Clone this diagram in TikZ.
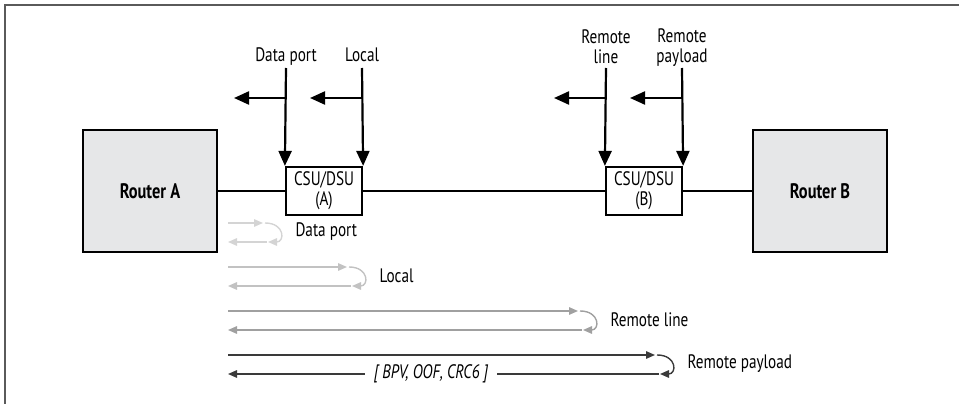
\documentclass[tikz,border=0pt]{standalone}
\usepackage{fontspec}
\setmainfont{PT Sans}[FakeStretch=0.78]
\usetikzlibrary{arrows.meta}
\definecolor{RouterFill}{HTML}{E6E7E8}
\definecolor{FrameGray}{HTML}{5A5A5A}
\definecolor{LoopData}{HTML}{D4D4D4}
\definecolor{LoopLocal}{HTML}{C2C2C2}
\definecolor{LoopLine}{HTML}{A0A0A0}
\definecolor{LoopPay}{HTML}{3A3A3A}
\newcommand\figfont{\fontsize{19.5}{20}\selectfont}

\begin{document}
\begin{tikzpicture}[x=1pt,y=-1pt,
  every node/.style={font=\figfont},
  router/.style={draw,line width=2.2pt,fill=RouterFill,minimum width=134pt,minimum height=122pt,font=\fontsize{21}{22}\selectfont\bfseries},
  csu/.style={draw,line width=2.2pt,fill=white,minimum width=76pt,minimum height=48pt,align=center,inner sep=0pt},
  lbl/.style={inner sep=0pt,align=center},
  tap/.style={line width=2.2pt,-{Triangle[length=15pt,width=13pt]}},
  loop/.style={line width=1.4pt,-{Triangle[length=9pt,width=7.5pt]}}]
  \useasboundingbox (0,0) rectangle (959,404);
  \draw[FrameGray,line width=1.4pt] (5,404) -- (5,5) -- (959,5);
  % routers and the two units
  \node[router] (ra) at (150,191) {Router A};
  \node[router] (rb) at (820,191) {Router B};
  \node[csu] (csuA) at (324,191) {CSU/DSU\\(A)};
  \node[csu] (csuB) at (644,191) {CSU/DSU\\(B)};
  \draw[line width=2.2pt] (ra) -- (csuA) (csuA) -- (csuB) (csuB) -- (rb);
  % loopback points
  \node[lbl,anchor=base] (dpLbl) at (286,62) {Data port};
  \node[lbl,anchor=base] (locLbl) at (362,62) {Local};
  \node[lbl,anchor=south] (rlLbl) at (606,64) {Remote\\line};
  \node[lbl,anchor=south] (rpLbl) at (682,67) {Remote\\payload};
  \foreach \x/\n/\tgt in {286/dp/csuA.north west,362/loc/csuA.north east,606/rl/csuB.north west,682/rp/csuB.north east}{
    \coordinate (\n Top) at (\x,68);\coordinate (\n Tap) at (\x,98);\coordinate (\n Out) at (\x-52,98);
    \draw[tap] (\n Top) -- (\tgt);
    \draw[tap] (\n Tap) -- (\n Out);}
  % loop paths
  \foreach \y/\t/\c/\txt in {223/263/LoopData/Data port,267/347/LoopLocal/Local,311/578/LoopLine/Remote line,355/655/LoopPay/Remote payload}{
    \coordinate (L\y) at (228,\y);\coordinate (T\y) at (\t,\y);
    \coordinate (B\y) at (\t+4,\y+19);\coordinate (E\y) at (228,\y+19);
    \draw[loop,\c] (L\y) -- (T\y);
    \draw[loop,\c] (\t+2,\y) .. controls (\t+22,\y) and (\t+22,\y+19) .. (\t+5,\y+19);
    \draw[loop,\c] (B\y) -- (E\y);
    \node[anchor=west] (lp\y) at (\t+29,\y+9) {\txt};}
  \node[fill=white,inner xsep=9pt,inner ysep=1pt] (errs) at (431,374) {\itshape [ BPV, OOF, CRC6 ]};
\end{tikzpicture}
\end{document}
